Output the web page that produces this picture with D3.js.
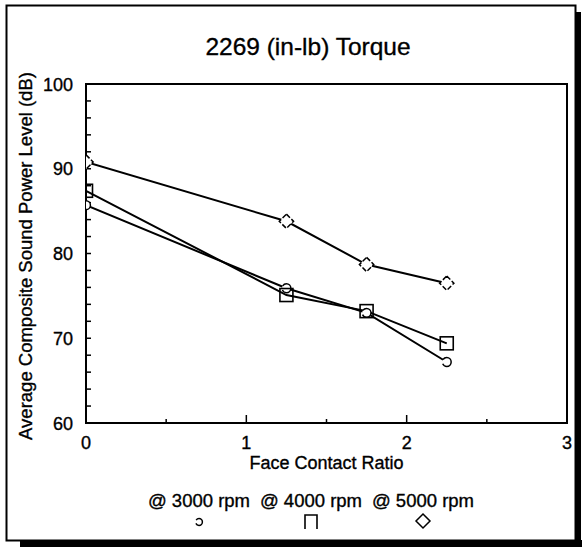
<!DOCTYPE html>
<html><head><meta charset="utf-8">
<script src="https://cdn.jsdelivr.net/npm/d3@7"></script>
<style>body{margin:0;background:#fff}svg{display:block;font-family:"Liberation Sans",Arial,sans-serif}text{fill:#000;stroke:#000;stroke-width:0.35px}</style>
</head><body><svg id="c" width="582" height="548"></svg>
<script>
const title = "2269 (in-lb) Torque";
const xLabel = "Face Contact Ratio";
const yLabel = "Average Composite Sound Power Level (dB)";
const contactRatio = [0, 1.25, 1.75, 2.25];
const seriesNames = ["@ 3000 rpm", "@ 4000 rpm", "@ 5000 rpm"];
const seriesSymbols = ["circle", "square", "diamond"];
const rpm3000 = [85.7, 75.9, 73.0, 67.2];
const rpm4000 = [87.4, 75.1, 73.2, 69.4];
const rpm5000 = [90.8, 83.8, 78.7, 76.5];
const xTicks = [0, 1, 2, 3];
const yTicks = [60, 70, 80, 90, 100];

const svg = d3.select("#c");
// frame with shadow
svg.append("rect").attr("x",20).attr("y",540).attr("width",562).attr("height",7).attr("fill","#000");
svg.append("rect").attr("x",575).attr("y",12).attr("width",6).attr("height",535).attr("fill","#000");
svg.append("rect").attr("x",6.5).attr("y",5.5).attr("width",569).attr("height",535).attr("fill","#fff").attr("stroke","#000").attr("stroke-width",2);

const L=86,R=567,T=84,B=423;
const x=d3.scaleLinear().domain([0,3]).range([L,R]);
const y=d3.scaleLinear().domain([60,100]).range([B,T]);

svg.append("text").attr("x",308).attr("y",55).attr("text-anchor","middle").attr("font-size",24.5).text(title);

// plot box
svg.append("rect").attr("x",L).attr("y",T).attr("width",R-L).attr("height",B-T).attr("fill","none").attr("stroke","#000").attr("stroke-width",2);

// y ticks inward
const yMinor = d3.range(62,100,2);
svg.append("g").selectAll("line").data(yMinor).join("line")
  .attr("x1",L).attr("x2",L+5).attr("y1",d=>y(d)).attr("y2",d=>y(d)).attr("stroke","#000").attr("stroke-width",1.5);
svg.append("g").selectAll("text").data(yTicks).join("text")
  .attr("x",73).attr("y",d=>y(d)+6.5).attr("text-anchor","end").attr("font-size",18).text(d=>d);
// x ticks inward
const xMinor = d3.range(0.5,3,0.5);
svg.append("g").selectAll("line").data(xMinor).join("line")
  .attr("x1",d=>x(d)).attr("x2",d=>x(d)).attr("y1",B).attr("y2",d=>Number.isInteger(d)?B-8:B-4).attr("stroke","#000").attr("stroke-width",1.5);
svg.append("g").selectAll("text").data(xTicks).join("text")
  .attr("x",d=>x(d)).attr("y",449).attr("text-anchor","middle").attr("font-size",18).text(d=>d);

svg.append("text").attr("x",(L+R)/2).attr("y",469).attr("text-anchor","middle").attr("font-size",18).text(xLabel);
svg.append("text").attr("transform","translate(32,256) rotate(-90)").attr("text-anchor","middle").attr("font-size",18.5).text(yLabel);

svg.append("defs").append("clipPath").attr("id","pc").append("rect").attr("x",L).attr("y",T-10).attr("width",R-L+10).attr("height",B-T+10);

const series=[rpm3000,rpm4000,rpm5000];
const line=d3.line().x((d,i)=>x(contactRatio[i])).y(d=>y(d));
const g=svg.append("g").attr("clip-path","url(#pc)");
series.forEach((s,k)=>{
  g.append("path").attr("d",line(s)).attr("fill","none").attr("stroke","#000").attr("stroke-width",2);
});
function sym(sel,type,cx,cy,size){
  if(type==="circle"){
    const r=size*0.34, c=2*Math.PI*r;
    sel.append("circle").attr("cx",cx).attr("cy",cy).attr("r",r).attr("fill","#fff").attr("stroke","#000").attr("stroke-width",1.5)
      .attr("stroke-dasharray",`${c*0.42} ${c*0.16} ${c*0.42} 0`);
  } else if(type==="square"){
    const h=size*0.5;
    sel.append("rect").attr("x",cx-h).attr("y",cy-h).attr("width",2*h).attr("height",2*h).attr("fill","none").attr("stroke","#000").attr("stroke-width",1.6);
  } else {
    const h=size*0.55;
    sel.append("path").attr("d",`M${cx},${cy-h}L${cx+h},${cy}L${cx},${cy+h}L${cx-h},${cy}Z`).attr("fill","#fff").attr("stroke","#000").attr("stroke-width",1.5).attr("stroke-dasharray","5 2");
  }
}
series.forEach((s,k)=>{
  s.forEach((v,i)=>sym(g,seriesSymbols[k],x(contactRatio[i]),y(v),13));
});

// legend
const legX=[199,311,423];
seriesNames.forEach((n,k)=>{
  svg.append("text").attr("x",legX[k]).attr("y",507).attr("text-anchor","middle").attr("font-size",18.5).text(n);
});
sym(svg,"circle",legX[0],522,10);
svg.append("path").attr("d",`M${legX[1]-6},529V515H${legX[1]+6}V529`).attr("fill","none").attr("stroke","#000").attr("stroke-width",1.6);
svg.append("path").attr("d",`M${legX[2]},514L${legX[2]+7},521L${legX[2]},528L${legX[2]-7},521Z`).attr("fill","none").attr("stroke","#000").attr("stroke-width",1.5);
</script></body></html>
